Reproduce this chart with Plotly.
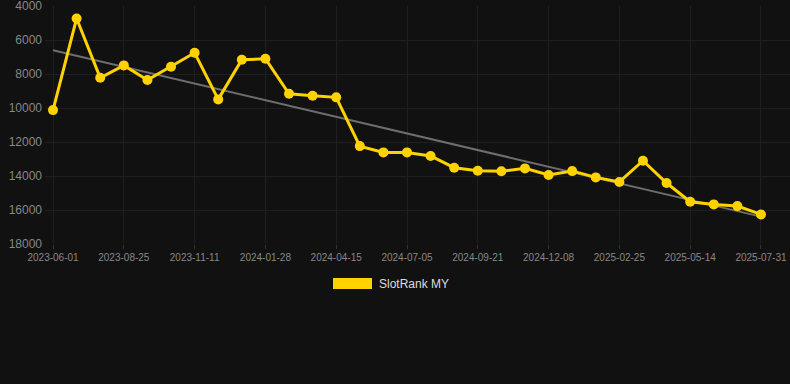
import numpy as np
import plotly.graph_objects as go

dates = [
    "2023-06-01", "2023-06-29", "2023-07-27", "2023-08-25", "2023-09-20", "2023-10-16",
    "2023-11-11", "2023-12-07", "2024-01-02", "2024-01-28", "2024-02-23", "2024-03-20",
    "2024-04-15", "2024-05-12", "2024-06-08", "2024-07-05", "2024-07-31", "2024-08-26",
    "2024-09-21", "2024-10-17", "2024-11-12", "2024-12-08", "2025-01-03", "2025-01-30",
    "2025-02-25", "2025-03-23", "2025-04-18", "2025-05-14", "2025-06-09", "2025-07-05",
    "2025-07-31",
]
ranks = [
    10120, 4730, 8220, 7490, 8350, 7570, 6750, 9490, 7160, 7100, 9160, 9280,
    9370, 12240, 12610, 12610, 12820, 13510, 13690, 13720, 13550, 13940, 13710,
    14080, 14350, 13100, 14410, 15510, 15670, 15770, 16260,
]
tick_dates = dates[::3]
tick_values = [4000, 6000, 8000, 10000, 12000, 14000, 16000, 18000]
tick_labels = [str(v) for v in tick_values]
series_name = "SlotRank MY"

idx = np.arange(len(ranks))
slope, intercept = np.polyfit(idx, ranks, 1)
trend = slope * idx + intercept

fig = go.Figure()
fig.add_trace(go.Scatter(
    x=dates, y=trend, mode="lines",
    line=dict(color="#6e6e6e", width=2), hoverinfo="skip", showlegend=False,
))
fig.add_trace(go.Scatter(
    x=dates, y=ranks, mode="lines+markers", name=series_name,
    line=dict(color="#FFD200", width=3),
    marker=dict(color="#FFD200", size=10),
    showlegend=False,
))

# legend patch
px_l, px_w, pt, ph = 45, 745, 6, 238
def px(x):
    return (x - px_l) / px_w
def py(y):
    return (pt + ph - y) / ph

fig.add_shape(type="rect", xref="paper", yref="paper",
              x0=px(333), x1=px(372), y0=py(289), y1=py(278),
              fillcolor="#FFD200", line=dict(width=0))
fig.add_annotation(xref="paper", yref="paper", x=px(377), y=py(284),
                   text=series_name, showarrow=False, xanchor="left", yanchor="middle",
                   font=dict(family="Liberation Sans, Arial", size=12, color="#dddddd"))

fig.update_layout(
    width=790, height=384,
    margin=dict(l=45, r=0, t=6, b=140),
    paper_bgcolor="#111111", plot_bgcolor="#111111",
    showlegend=False,
    font=dict(family="Liberation Sans, Arial", color="#888888"),
    xaxis=dict(
        type="category", range=[-0.34, 31.23],
        tickmode="array", tickvals=tick_dates, ticktext=tick_dates,
        tickfont=dict(size=10, color="#888888"),
        showgrid=True, gridcolor="#1f1f1f", gridwidth=1,
        showline=False, zeroline=False,
        ticks="outside", ticklen=4, tickcolor="#333333",
    ),
    yaxis=dict(
        range=[18000, 3995], tickmode="array", tickvals=tick_values, ticktext=tick_labels,
        tickfont=dict(size=12, color="#888888"), ticklabeloverflow="allow",
        showgrid=True, gridcolor="#1f1f1f", gridwidth=1,
        zeroline=False, showline=False, ticks="", ticklabelstandoff=2,
    ),
)

fig.write_html("out.html")
